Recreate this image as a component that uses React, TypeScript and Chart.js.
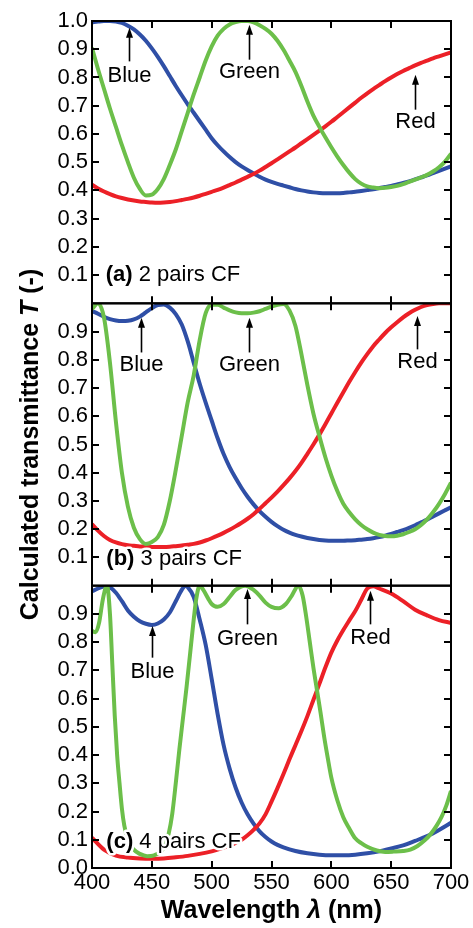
import React, { useEffect, useRef } from 'react';
import { Chart, registerables } from 'chart.js';

Chart.register(...registerables);

// ---------- data ----------
// common 5 nm wavelength grid (panels a and b)
const WL = [
  400, 405, 410, 415, 420, 425, 430, 435, 440, 445,
  450, 455, 460, 465, 470, 475, 480, 485, 490, 495,
  500, 505, 510, 515, 520, 525, 530, 535, 540, 545,
  550, 555, 560, 565, 570, 575, 580, 585, 590, 595,
  600, 605, 610, 615, 620, 625, 630, 635, 640, 645,
  650, 655, 660, 665, 670, 675, 680, 685, 690, 695,
  700,
];

// (a) 2 pairs CF
const BLUE_A = [
  0.995, 0.998, 1.0, 1.0, 0.998, 0.993, 0.983, 0.97, 0.952, 0.93,
  0.903, 0.873, 0.84, 0.805, 0.77, 0.737, 0.705, 0.675, 0.645, 0.615,
  0.585, 0.56, 0.538, 0.518, 0.5, 0.485, 0.472, 0.46, 0.448, 0.438,
  0.43, 0.423, 0.417, 0.411, 0.405, 0.4, 0.396, 0.393, 0.391, 0.39,
  0.39, 0.39, 0.391, 0.393, 0.395, 0.398, 0.401, 0.404, 0.408, 0.412,
  0.416, 0.421, 0.426, 0.432, 0.439, 0.446, 0.453, 0.461, 0.469, 0.477,
  0.485,
];
const GREEN_A = [
  0.905, 0.83, 0.76, 0.69, 0.625, 0.56, 0.5, 0.445, 0.405, 0.382,
  0.385, 0.405, 0.44, 0.49, 0.545, 0.61, 0.675, 0.74, 0.8, 0.86,
  0.91, 0.948, 0.972, 0.988, 0.996, 1.0, 1.0, 0.995, 0.985, 0.972,
  0.955, 0.93, 0.898, 0.86, 0.82, 0.77, 0.715, 0.665, 0.625, 0.588,
  0.553, 0.52, 0.49, 0.463, 0.44, 0.424, 0.414, 0.41, 0.408, 0.409,
  0.412, 0.416, 0.422, 0.43, 0.438, 0.446, 0.455, 0.467, 0.482, 0.502,
  0.53,
];
const RED_A = [
  0.42, 0.407, 0.396, 0.387, 0.379, 0.373, 0.368, 0.364, 0.361, 0.359,
  0.357, 0.356, 0.357, 0.359, 0.362, 0.366, 0.37, 0.375, 0.381, 0.388,
  0.395, 0.402, 0.41, 0.419, 0.428, 0.438, 0.448, 0.458, 0.47, 0.483,
  0.496, 0.51, 0.524, 0.538, 0.552, 0.567, 0.582, 0.597, 0.612, 0.627,
  0.643, 0.66, 0.677, 0.694, 0.711, 0.728, 0.744, 0.759, 0.773, 0.787,
  0.8, 0.812, 0.823, 0.833, 0.843, 0.852, 0.86, 0.868, 0.875, 0.882,
  0.889,
];

// (b) 3 pairs CF
const BLUE_B = [
  0.973, 0.963, 0.952, 0.944, 0.939, 0.937, 0.938, 0.943, 0.953, 0.968,
  0.983, 0.994, 0.996, 0.985, 0.962, 0.925, 0.865, 0.79, 0.715, 0.648,
  0.585, 0.522, 0.466, 0.42, 0.381, 0.346, 0.315, 0.288, 0.264, 0.244,
  0.226, 0.211, 0.198, 0.188, 0.18, 0.174, 0.169, 0.165, 0.162, 0.16,
  0.159, 0.159, 0.159, 0.16, 0.161, 0.163, 0.165, 0.168, 0.172, 0.177,
  0.183, 0.19, 0.197, 0.205, 0.214, 0.224, 0.234, 0.245, 0.256, 0.267,
  0.278,
];
const GREEN_B = [
  0.98, 1.0, 0.95, 0.79, 0.58, 0.4, 0.28, 0.205, 0.165, 0.148,
  0.155, 0.172, 0.215, 0.3, 0.41, 0.53, 0.65, 0.745, 0.87, 0.965,
  0.995, 0.995, 0.985, 0.975, 0.968, 0.965, 0.965, 0.967, 0.972, 0.98,
  0.988, 0.995, 0.998, 0.975, 0.92, 0.82, 0.71, 0.61, 0.53, 0.455,
  0.39, 0.335, 0.29, 0.26, 0.235, 0.215, 0.2, 0.188, 0.18, 0.176,
  0.175, 0.177, 0.182, 0.19, 0.2, 0.215, 0.235, 0.26, 0.29, 0.325,
  0.365,
];
const RED_B = [
  0.218, 0.195, 0.176, 0.162, 0.153, 0.147, 0.143, 0.141, 0.139, 0.138,
  0.137, 0.137, 0.137, 0.138, 0.14, 0.142, 0.145, 0.148, 0.153, 0.16,
  0.168, 0.177, 0.187, 0.198, 0.21, 0.223, 0.237, 0.253, 0.272, 0.292,
  0.312, 0.333, 0.356, 0.38, 0.406, 0.435, 0.467, 0.5, 0.535, 0.572,
  0.61, 0.648, 0.685, 0.722, 0.757, 0.79, 0.82, 0.848, 0.872, 0.895,
  0.915, 0.933, 0.95, 0.965, 0.977, 0.987, 0.994, 0.998, 1.0, 1.0,
  1.0,
];

// (c) 4 pairs CF (own wavelength samples, denser near narrow peaks)
const BLUE_C_NM = [
  400, 405, 410, 412.5, 415, 420, 425, 430, 435, 440, 445, 450, 455, 460, 465,
  470, 475, 478, 480, 485, 490, 495, 500, 505, 510, 515, 520, 525, 530, 535,
  540, 545, 550, 555, 560, 570, 580, 590, 600, 610, 620, 630, 640, 650, 660,
  670, 680, 690, 700,
];
const BLUE_C = [
  0.98, 0.99, 0.998, 1.0, 0.995, 0.975, 0.945, 0.912, 0.89, 0.874, 0.865, 0.861, 0.866, 0.88, 0.905,
  0.945, 0.985, 1.0, 0.995, 0.96, 0.88, 0.79, 0.67, 0.545, 0.435, 0.352, 0.285, 0.232, 0.19, 0.157,
  0.13, 0.11, 0.094, 0.082, 0.073, 0.06, 0.052, 0.047, 0.045, 0.045, 0.047, 0.052, 0.059, 0.069, 0.08,
  0.096, 0.113, 0.135, 0.16,
];
const GREEN_C_NM = [
  400, 403, 406, 409, 412.5, 415, 417, 419, 421, 423, 425, 427, 430, 435, 440, 446, 452, 458,
  461, 464, 467, 470, 473, 476, 479, 482, 485, 487, 490, 493, 497, 500, 505, 510, 515, 520, 528,
  535, 540, 545, 550, 556, 562, 567, 572.5, 576, 579, 582, 585, 588, 591, 594, 597, 600,
  605, 610, 615, 620, 625, 630, 638, 645, 652, 660, 666, 672, 678, 683, 688, 692, 696, 700,
];
const GREEN_C = [
  0.84, 0.835, 0.87, 0.95, 1.0, 0.9, 0.72, 0.54, 0.4, 0.3, 0.21, 0.15, 0.1, 0.065, 0.05, 0.042, 0.045, 0.06,
  0.08, 0.12, 0.19, 0.3, 0.42, 0.53, 0.64, 0.76, 0.88, 0.95, 1.0, 0.985, 0.955, 0.935, 0.925, 0.935, 0.96, 0.985, 1.0,
  0.985, 0.965, 0.94, 0.925, 0.92, 0.935, 0.965, 1.0, 0.965, 0.89, 0.8, 0.71, 0.63, 0.55, 0.465, 0.39, 0.32,
  0.24, 0.18, 0.14, 0.105, 0.088, 0.075, 0.062, 0.057, 0.058, 0.06, 0.065, 0.078, 0.098, 0.12, 0.15, 0.18, 0.22, 0.273,
];
const RED_C_NM = [
  400, 410, 420, 430, 440, 450, 460, 470, 480, 490, 500, 505, 510, 515, 520,
  525, 530, 535, 540, 545, 550, 555, 560, 565, 570, 575, 580, 585, 590, 595,
  600, 605, 610, 615, 620, 625, 630, 635, 640, 650, 660, 670, 680, 690, 700,
];
const RED_C = [
  0.107, 0.065, 0.044, 0.037, 0.034, 0.033, 0.034, 0.038, 0.043, 0.05, 0.059, 0.065, 0.072, 0.08, 0.089,
  0.1, 0.116, 0.135, 0.158, 0.19, 0.235, 0.283, 0.333, 0.385, 0.435, 0.485, 0.538, 0.595, 0.652, 0.71,
  0.763, 0.806, 0.843, 0.877, 0.91, 0.95, 0.99, 0.998, 0.99, 0.972, 0.945, 0.915, 0.895, 0.878, 0.868,
];

// panel captions
const PANEL_AXES = ['yA', 'yB', 'yC'];
const PANEL_TAGS = ['(a)', '(b)', '(c)'];
const PANEL_DESCS = ['2 pairs CF', '3 pairs CF', '4 pairs CF'];
const PANEL_TAG_NM = [411.5, 412, 412];
const PANEL_TAG_T = [0.102, 0.095, 0.093];

// arrow annotations (data units)
const ANNOT_AXES = ['yA', 'yA', 'yA', 'yB', 'yB', 'yB', 'yC', 'yC', 'yC'];
const ANNOT_LABELS = ['Blue', 'Green', 'Red', 'Blue', 'Green', 'Red', 'Blue', 'Green', 'Red'];
const ANNOT_NM = [430.6, 531.5, 670, 441, 531.5, 671.5, 450, 529.5, 632];
const ANNOT_TIP = [0.976, 0.987, 0.81, 0.949, 0.949, 0.955, 0.857, 0.988, 0.982];
const ANNOT_TAIL = [0.857, 0.863, 0.686, 0.826, 0.826, 0.837, 0.745, 0.863, 0.863];
const ANNOT_TEXT_T = [0.81, 0.822, 0.645, 0.784, 0.784, 0.796, 0.697, 0.816, 0.82];

const X_TITLE = ['Wavelength ', 'λ', ' (nm)'];
const Y_TITLE = ['Calculated transmittance ', 'T', ' (-)'];

// ---------- styles ----------
const FAMILY = '"Liberation Sans", Arial, Helvetica, sans-serif';
const BLUE = '#2f4fa6';
const GREEN = '#6cbf4a';
const RED = '#ec2027';

const pts = (xs: number[], ys: number[]) => xs.map((x, i) => ({ x, y: ys[i] }));

function drawRich(ctx: CanvasRenderingContext2D, parts: [string, string][], cx: number, y: number) {
  let total = 0;
  for (const [t, f] of parts) {
    ctx.font = f;
    total += ctx.measureText(t).width;
  }
  let cur = cx - total / 2;
  ctx.textAlign = 'left';
  for (const [t, f] of parts) {
    ctx.font = f;
    ctx.fillText(t, cur, y);
    cur += ctx.measureText(t).width;
  }
}

const overlayPlugin = {
  id: 'overlay',
  afterDatasetsDraw(chart: any) {
    const ctx: CanvasRenderingContext2D = chart.ctx;
    const xs = chart.scales.x;
    const L = chart.chartArea.left;
    const R = chart.chartArea.right;
    const tl = 7;
    ctx.save();
    ctx.strokeStyle = '#000';
    ctx.lineWidth = 2;
    // frames and inward ticks
    PANEL_AXES.forEach((id) => {
      const s = chart.scales[id];
      ctx.strokeRect(L, s.top, R - L, s.bottom - s.top);
      ctx.beginPath();
      s.ticks.forEach((t: any) => {
        if (t.value <= 0.0001 || t.value >= 0.9999) return;
        const py = Math.round(s.getPixelForValue(t.value));
        ctx.moveTo(L, py); ctx.lineTo(L + tl, py);
        ctx.moveTo(R, py); ctx.lineTo(R - tl, py);
      });
      xs.ticks.forEach((t: any) => {
        if (t.value <= xs.min || t.value >= xs.max) return;
        const px = Math.round(xs.getPixelForValue(t.value));
        ctx.moveTo(px, s.top); ctx.lineTo(px, s.top + tl);
        ctx.moveTo(px, s.bottom); ctx.lineTo(px, s.bottom - tl);
      });
      ctx.stroke();
    });

    // panel captions
    ctx.textBaseline = 'middle';
    ctx.lineJoin = 'round';
    PANEL_AXES.forEach((id, i) => {
      const s = chart.scales[id];
      const x0 = xs.getPixelForValue(PANEL_TAG_NM[i]);
      const y0 = s.getPixelForValue(PANEL_TAG_T[i]);
      const bold = `bold 22px ${FAMILY}`;
      const reg = `22px ${FAMILY}`;
      ctx.font = bold;
      const w1 = ctx.measureText(PANEL_TAGS[i] + ' ').width;
      ctx.textAlign = 'left';
      ctx.strokeStyle = '#fff';
      ctx.lineWidth = 5;
      ctx.fillStyle = '#000';
      ctx.font = bold;
      ctx.strokeText(PANEL_TAGS[i], x0, y0);
      ctx.font = reg;
      ctx.strokeText(PANEL_DESCS[i], x0 + w1, y0);
      ctx.font = bold;
      ctx.fillText(PANEL_TAGS[i], x0, y0);
      ctx.font = reg;
      ctx.fillText(PANEL_DESCS[i], x0 + w1, y0);
    });

    // arrows + labels
    ctx.strokeStyle = '#000';
    ctx.fillStyle = '#000';
    ANNOT_LABELS.forEach((lab, i) => {
      const s = chart.scales[ANNOT_AXES[i]];
      const px = Math.round(xs.getPixelForValue(ANNOT_NM[i])) + 0.5;
      const tip = s.getPixelForValue(ANNOT_TIP[i]);
      const tail = s.getPixelForValue(ANNOT_TAIL[i]);
      ctx.lineWidth = 1.6;
      ctx.beginPath();
      ctx.moveTo(px, tail);
      ctx.lineTo(px, tip + 8);
      ctx.stroke();
      ctx.beginPath();
      ctx.moveTo(px, tip);
      ctx.lineTo(px - 3.5, tip + 10);
      ctx.lineTo(px + 3.5, tip + 10);
      ctx.closePath();
      ctx.fill();
      ctx.font = `22px ${FAMILY}`;
      ctx.textAlign = 'center';
      ctx.textBaseline = 'middle';
      ctx.fillText(lab, px, s.getPixelForValue(ANNOT_TEXT_T[i]) + 1);
    });

    // axis titles
    ctx.fillStyle = '#000';
    ctx.textBaseline = 'alphabetic';
    const cx = (L + R) / 2;
    drawRich(ctx, [
      [X_TITLE[0], `bold 25px ${FAMILY}`],
      [X_TITLE[1], `italic bold 25px ${FAMILY}`],
      [X_TITLE[2], `bold 25px ${FAMILY}`],
    ], cx, 918);
    const cy = (chart.chartArea.top + chart.chartArea.bottom) / 2;
    ctx.save();
    ctx.translate(38, cy);
    ctx.rotate(-Math.PI / 2);
    drawRich(ctx, [
      [Y_TITLE[0], `bold 25px ${FAMILY}`],
      [Y_TITLE[1], `italic bold 25px ${FAMILY}`],
      [Y_TITLE[2], `bold 25px ${FAMILY}`],
    ], 0, 0);
    ctx.restore();
    ctx.restore();
  },
};

function yAxis(hideZero: boolean, hideOne: boolean) {
  return {
    type: 'linear',
    position: 'left',
    stack: 'panels',
    stackWeight: 1,
    min: 0,
    max: 1,
    grid: { display: false, drawTicks: false },
    border: { display: false },
    afterFit: (s: any) => { s.width = 52; },
    ticks: {
      stepSize: 0.1,
      autoSkip: false,
      padding: 4,
      color: '#000',
      font: { family: FAMILY, size: 22 },
      callback: (v: number) => {
        if (hideZero && Math.abs(v) < 1e-6) return '';
        if (hideOne && Math.abs(v - 1) < 1e-6) return '';
        return Number(v).toFixed(1);
      },
    },
  };
}

function line(data: { x: number; y: number }[], color: string, axis: string) {
  return {
    data,
    borderColor: color,
    backgroundColor: color,
    borderWidth: 4,
    pointRadius: 0,
    fill: false,
    cubicInterpolationMode: 'monotone',
    yAxisID: axis,
  };
}

export default function App() {
  const ref = useRef<HTMLCanvasElement | null>(null);
  useEffect(() => {
    if (!ref.current) return;
    const chart = new Chart(ref.current, {
      type: 'line',
      data: {
        datasets: [
          line(pts(WL, GREEN_A), GREEN, 'yA'),
          line(pts(WL, RED_A), RED, 'yA'),
          line(pts(WL, BLUE_A), BLUE, 'yA'),
          line(pts(WL, GREEN_B), GREEN, 'yB'),
          line(pts(WL, RED_B), RED, 'yB'),
          line(pts(WL, BLUE_B), BLUE, 'yB'),
          line(pts(GREEN_C_NM, GREEN_C), GREEN, 'yC'),
          line(pts(RED_C_NM, RED_C), RED, 'yC'),
          line(pts(BLUE_C_NM, BLUE_C), BLUE, 'yC'),
        ] as any,
      },
      options: {
        animation: false,
        responsive: false,
        devicePixelRatio: 1,
        layout: { padding: { left: 40, right: 22, top: 21, bottom: 24 } },
        plugins: { legend: { display: false }, tooltip: { enabled: false } },
        scales: {
          x: {
            type: 'linear',
            position: 'bottom',
            min: 400,
            max: 700,
            grid: { display: false, drawTicks: false },
            border: { display: false },
            afterFit: (s: any) => { s.height = 36; },
            ticks: {
              stepSize: 50,
              autoSkip: false,
              maxRotation: 0,
              padding: 2,
              color: '#000',
              font: { family: FAMILY, size: 22 },
            },
          },
          yC: yAxis(false, true),
          yB: yAxis(true, true),
          yA: yAxis(true, false),
        } as any,
      },
      plugins: [overlayPlugin],
    });
    return () => chart.destroy();
  }, []);
  return (
    <div style={{ position: 'absolute', left: 0, top: 0, width: 473, height: 928, background: '#fff' }}>
      <canvas ref={ref} width={473} height={928} style={{ display: 'block' }} />
    </div>
  );
}
